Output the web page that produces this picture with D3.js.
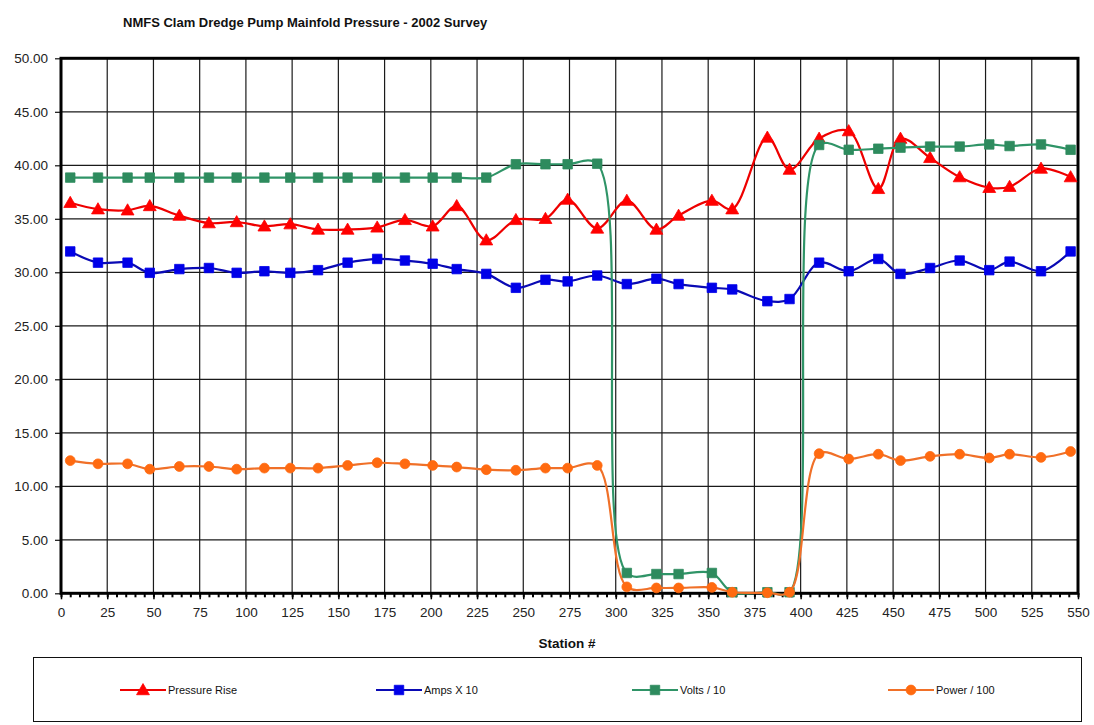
<!DOCTYPE html>
<html>
<head>
<meta charset="utf-8">
<script src="https://cdn.jsdelivr.net/npm/d3@7"></script>
<style>
  html, body { margin: 0; padding: 0; background: #fff; }
  svg { display: block; font-family: "Liberation Sans", Arial, sans-serif; }
</style>
</head>
<body>
<svg id="chart" width="1094" height="725"></svg>
<script>
// Survey stations along the tow
const stations = [5, 20, 36, 48, 64, 80, 95, 110, 124, 139, 155, 171, 186, 201, 214, 230, 246, 262, 274, 290,
                  306, 322, 334, 352, 363, 382, 394, 410, 426, 442, 454, 470, 486, 502, 513, 530, 546];

const pressureRise = [36.5, 35.9, 35.8, 36.2, 35.3, 34.6, 34.7, 34.3, 34.5, 34.0, 34.0, 34.2, 34.9, 34.3, 36.2, 33.0, 34.9, 35.0, 36.8, 34.1,
                      36.7, 34.0, 35.3, 36.7, 35.9, 42.6, 39.6, 42.5, 43.2, 37.8, 42.5, 40.7, 38.9, 37.9, 38.0, 39.7, 38.9];

const ampsX10 = [31.95, 30.9, 30.9, 29.95, 30.3, 30.4, 29.95, 30.1, 29.95, 30.2, 30.9, 31.25, 31.1, 30.8, 30.3, 29.85, 28.55, 29.3, 29.15, 29.7,
                 28.9, 29.4, 28.9, 28.55, 28.4, 27.3, 27.5, 30.9, 30.1, 31.25, 29.85, 30.4, 31.1, 30.2, 31.0, 30.1, 31.95];

const voltsDiv10 = [38.85, 38.85, 38.85, 38.85, 38.85, 38.85, 38.85, 38.85, 38.85, 38.85, 38.85, 38.85, 38.85, 38.85, 38.85, 38.85, 40.1, 40.1, 40.1, 40.15,
                    1.9, 1.8, 1.8, 1.9, 0.1, 0.1, 0.1, 41.9, 41.45, 41.55, 41.65, 41.75, 41.75, 41.95, 41.8, 41.95, 41.45];

const powerDiv100 = [12.4, 12.1, 12.1, 11.6, 11.85, 11.85, 11.6, 11.7, 11.7, 11.7, 11.95, 12.2, 12.1, 11.95, 11.8, 11.55, 11.5, 11.7, 11.7, 11.95,
                     0.6, 0.5, 0.5, 0.55, 0.1, 0.05, 0.1, 13.05, 12.55, 13.0, 12.4, 12.8, 13.0, 12.65, 13.0, 12.7, 13.25];

const xTicks = [0, 25, 50, 75, 100, 125, 150, 175, 200, 225, 250, 275, 300, 325, 350, 375, 400, 425, 450, 475, 500, 525, 550];
const yTicks = [0, 5, 10, 15, 20, 25, 30, 35, 40, 45, 50];

const titleText = "NMFS Clam Dredge Pump Mainfold Pressure - 2002 Survey";
const xTitle = "Station #";

const seriesList = [
  { name: "Pressure Rise", values: pressureRise, line: "#ee0000", fill: "#ff0000", marker: "triangle" },
  { name: "Amps X 10",     values: ampsX10,      line: "#0a0ab4", fill: "#0000e8", marker: "square" },
  { name: "Volts / 10",    values: voltsDiv10,   line: "#2f9467", fill: "#2e8b5e", marker: "square" },
  { name: "Power / 100",   values: powerDiv100,  line: "#f07028", fill: "#ff6a10", marker: "circle" }
];

const svg = d3.select("#chart");

const plot = { left: 61, right: 1078, top: 58.3, bottom: 593.3 };
const x = d3.scaleLinear().domain([0, 550]).range([plot.left, plot.right]);
const y = d3.scaleLinear().domain([0, 50]).range([plot.bottom, plot.top]);

// Title
svg.append("text")
  .attr("x", 123).attr("y", 27)
  .attr("font-size", 13).attr("font-weight", "bold").attr("fill", "#111")
  .text(titleText);

// Gridlines
const grid = svg.append("g");
grid.selectAll("line.gy").data(yTicks.slice(1, -1)).join("line")
  .attr("x1", plot.left).attr("x2", plot.right)
  .attr("y1", d => y(d)).attr("y2", d => y(d))
  .attr("stroke", "#1a1a1a").attr("stroke-width", 1.2);
grid.selectAll("line.gx").data(xTicks.slice(1, -1)).join("line")
  .attr("y1", plot.top).attr("y2", plot.bottom)
  .attr("x1", d => x(d)).attr("x2", d => x(d))
  .attr("stroke", "#1a1a1a").attr("stroke-width", 1.2);

// Y axis (ticks and labels)
const yAxis = d3.axisLeft(y).tickValues(yTicks).tickSize(6).tickSizeOuter(0).tickFormat(d3.format(".2f"));
const gy = svg.append("g").attr("transform", `translate(${plot.left},0)`).call(yAxis);
gy.select(".domain").remove();
gy.selectAll(".tick line").attr("stroke", "#111").attr("stroke-width", 1.2);
gy.selectAll(".tick text").attr("font-size", 13.5).attr("fill", "#222")
  .attr("font-family", "Liberation Sans, Arial, sans-serif").attr("x", -13);

// X axis: minor ticks every 5, labelled majors every 25
const xMinor = d3.range(0, 551, 5);
const xAxisMinor = d3.axisBottom(x).tickValues(xMinor).tickSize(4).tickFormat("");
const gxm = svg.append("g").attr("transform", `translate(0,${plot.bottom})`).call(xAxisMinor);
gxm.select(".domain").remove();
gxm.selectAll(".tick line").attr("stroke", "#000").attr("stroke-width", 2);

const xAxis = d3.axisBottom(x).tickValues(xTicks).tickSize(6).tickSizeOuter(0).tickFormat(d3.format("d"));
const gx = svg.append("g").attr("transform", `translate(0,${plot.bottom})`).call(xAxis);
gx.select(".domain").remove();
gx.selectAll(".tick line").attr("stroke", "#000").attr("stroke-width", 1.5);
gx.selectAll(".tick text").attr("font-size", 13.5).attr("fill", "#222")
  .attr("font-family", "Liberation Sans, Arial, sans-serif").attr("y", 14);

// Plot frame
svg.append("rect")
  .attr("x", plot.left).attr("y", plot.top)
  .attr("width", plot.right - plot.left).attr("height", plot.bottom - plot.top)
  .attr("fill", "none").attr("stroke", "#000").attr("stroke-width", 3);

// X axis title
svg.append("text")
  .attr("x", 567).attr("y", 648).attr("text-anchor", "middle")
  .attr("font-size", 13.5).attr("font-weight", "bold").attr("fill", "#111")
  .text(xTitle);

// Marker symbols
const symbolFor = {
  triangle: d3.symbol().type(d3.symbolTriangle).size(72),
  square: d3.symbol().type(d3.symbolSquare).size(90),
  circle: d3.symbol().type(d3.symbolCircle).size(76)
};

// Smoothed polyline through the readings (centripetal Catmull-Rom keeps overshoot small at the big steps)
const lineGen = d3.line()
  .x(d => x(d[0])).y(d => y(d[1]))
  .curve(d3.curveCatmullRom.alpha(0.5));

const seriesG = svg.append("g");
seriesList.forEach(s => {
  const pts = stations.map((st, i) => [st, s.values[i]]);
  const g = seriesG.append("g");
  g.append("path").attr("d", lineGen(pts))
    .attr("fill", "none").attr("stroke", s.line).attr("stroke-width", 2.2)
    .attr("stroke-linejoin", "round");
  g.selectAll("path.m").data(pts).join("path")
    .attr("class", "m")
    .attr("d", symbolFor[s.marker])
    .attr("transform", d => `translate(${x(d[0])},${y(d[1]) + (s.marker === "triangle" ? 1 : 0)})`)
    .attr("fill", s.fill).attr("stroke", s.fill).attr("stroke-width", 0.8);
});

// Legend
const legend = svg.append("g");
legend.append("rect")
  .attr("x", 33.5).attr("y", 657.5).attr("width", 1048).attr("height", 64)
  .attr("fill", "#fff").attr("stroke", "#111").attr("stroke-width", 1);

const legendX = [120, 376, 632, 888];
const legendY = 690;
seriesList.forEach((s, i) => {
  const lx = legendX[i];
  const item = legend.append("g");
  item.append("line")
    .attr("x1", lx).attr("x2", lx + 46).attr("y1", legendY).attr("y2", legendY)
    .attr("stroke", s.line).attr("stroke-width", 2.2);
  item.append("path")
    .attr("d", symbolFor[s.marker])
    .attr("transform", `translate(${lx + 23},${legendY + (s.marker === "triangle" ? 1 : 0)})`)
    .attr("fill", s.fill).attr("stroke", s.fill).attr("stroke-width", 0.8);
  item.append("text")
    .attr("x", lx + 48).attr("y", legendY + 4)
    .attr("font-size", 11).attr("fill", "#111")
    .text(s.name);
});
</script>
</body>
</html>
